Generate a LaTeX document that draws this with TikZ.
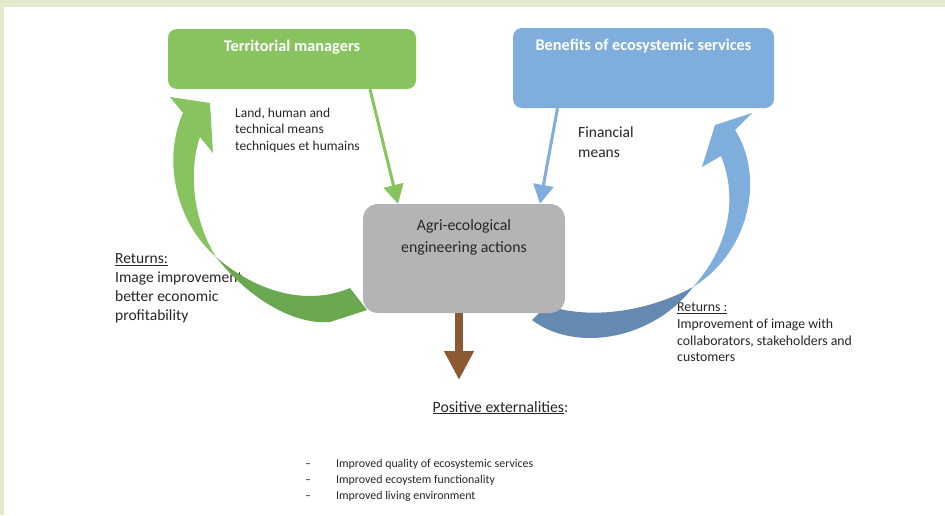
\documentclass[tikz,border=0pt]{standalone}
\usepackage{fontspec}
\setmainfont{Carlito}
\usetikzlibrary{arrows.meta,calc}

\definecolor{framegreen}{RGB}{224,235,205}
\definecolor{mgrgreen}{RGB}{135,196,95}
\definecolor{retgreen}{RGB}{106,168,79}
\definecolor{benblue}{RGB}{127,173,220}
\definecolor{retblue}{RGB}{102,137,178}
\definecolor{actgray}{RGB}{180,180,182}
\definecolor{extbrown}{RGB}{139,90,51}
\definecolor{txt}{RGB}{38,38,38}

\begin{document}
\begin{tikzpicture}[x=1pt, y=-1pt,
  every node/.style={text=txt, inner sep=0pt},
  topbox/.style={rounded corners=9pt, draw=none},
  boxtitle/.style={anchor=north, yshift=-11pt, text=white,
    font=\fontsize{16.3}{19}\selectfont\bfseries},
  means/.style={line width=3pt, -{Triangle[length=19pt,width=20pt]}},
  note/.style={anchor=north west, align=left}]
  \useasboundingbox (0,0) rectangle (945,515);

  % frame
  \fill[framegreen] (0,0) rectangle (945,515);
  \fill[white] (4,7) rectangle (945,515);

  % texts that the arrows partly cover
  \node[note, font=\fontsize{15.5}{19}\selectfont] (retleft) at (115,253.5)
    {\underline{Returns:}\\Image improvement,\\better economic\\profitability};
  \node[note, font=\fontsize{13.8}{16.8}\selectfont] (retright) at (677,302.5)
    {\underline{Returns :}\\Improvement of image with\\collaborators, stakeholders and\\customers};

  % returns, left (green)
  \fill[mgrgreen] (170,97) -- (210,103) -- (213,153) -- (200,137)
    .. controls (190,165) and (190,215) .. (216,257)
    .. controls (176,222) and (162,160) .. (183,113) -- cycle;
  \fill[retgreen] (216,257) .. controls (250,300) and (295,325) .. (330,322)
    -- (367,310) -- (350,288)
    .. controls (310,305) and (260,295) .. (216,257) -- cycle;

  % returns, right (blue)
  \fill[benblue] (752,113) -- (715,125) -- (702,167) -- (721,156)
    .. controls (735,190) and (735,240) .. (693,287)
    .. controls (752,250) and (764,175) .. (735,130) -- cycle;
  \fill[retblue] (693,287) .. controls (670,318) and (630,338) .. (590,338)
    .. controls (565,338) and (545,330) .. (532,320)
    -- (547,305) .. controls (580,318) and (640,316) .. (693,287) -- cycle;

  % boxes
  \node[topbox, fill=mgrgreen, minimum width=248pt, minimum height=60pt,
    label={[boxtitle]north:Territorial managers}] (mgr) at (292,59) {};
  \node[topbox, fill=benblue, minimum width=261pt, minimum height=80pt,
    label={[boxtitle]north:Benefits of ecosystemic services}] (ben) at (643.5,68) {};
  \node[rounded corners=15pt, fill=actgray, minimum width=202pt, minimum height=109pt,
    label={[anchor=north, yshift=-16pt, align=center,
      font=\fontsize{15.8}{22}\selectfont]north:Agri-ecological\\engineering actions}]
    (act) at (464,258.5) {};

  % means
  \draw[means, mgrgreen] ($(mgr.south)+(78,0)$) -- ($(act.north)+(-66,0)$);
  \draw[means, benblue] ($(ben.south)+(-86,0)$) -- ($(act.north)+(76,0)$);
  \node[note, font=\fontsize{13.5}{16.5}\selectfont] (landmeans) at (235,107.5)
    {Land, human and\\technical means\\techniques et humains};
  \node[note, font=\fontsize{15.5}{20}\selectfont] (finmeans) at (578,127)
    {Financial\\means};

  % externalities
  \coordinate (extend) at (459,380);
  \draw[line width=8pt, extbrown, -{Triangle[length=29pt,width=28pt]}]
    (act.south -| extend) -- (extend);
  \node[anchor=north, font=\fontsize{15.7}{18}\selectfont] (ext) at (500.5,401)
    {\underline{Positive externalities}:};
  \node[note, font=\fontsize{11.9}{15.6}\selectfont] (extlist) at (305,459.5)
    {\makebox[31pt][l]{--}Improved quality of ecosystemic services\\
     \makebox[31pt][l]{--}Improved ecoystem functionality\\
     \makebox[31pt][l]{--}Improved living environment};
\end{tikzpicture}
\end{document}
